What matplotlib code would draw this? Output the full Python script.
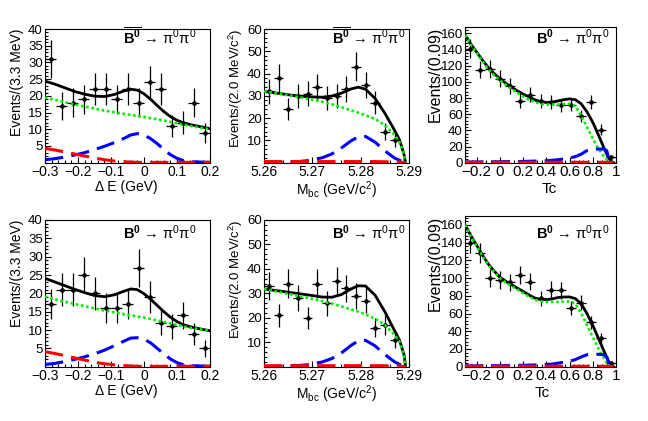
import matplotlib
matplotlib.use("Agg")
import matplotlib.pyplot as plt
import numpy as np
from matplotlib.ticker import AutoMinorLocator

plt.rcParams["font.family"] = ["Liberation Sans", "DejaVu Sans"]
plt.rcParams["mathtext.fontset"] = "custom"
plt.rcParams["mathtext.rm"] = "Liberation Sans"
plt.rcParams["mathtext.it"] = "Liberation Sans:italic"
plt.rcParams["mathtext.bf"] = "Liberation Sans:bold"

# ---- binned data (15 bins per variable) ----
de_range = (-0.3, 0.2)
mbc_range = (5.26, 5.29)
tc_range = (-0.3, 1.0)
n_bins = 15

de_counts_bbar = [31, 17, 18, 19, 22, 22, 19, 22, 18, 24, 22, 11, 12, 18, 9]
de_counts_b = [17, 21, 21, 25, 20, 16, 16, 17, 27, 19, 12, 11, 14, 9, 5]
mbc_counts_bbar = [32, 38, 24, 30, 31, 34, 29, 30, 33, 43, 35, 27, 14, 10, 0]
mbc_counts_b = [33, 21, 34, 28, 20, 34, 26, 35, 32, 29, 27, 16, 17, 11, 0]
tc_counts_bbar = [141, 115, 116, 104, 95, 77, 84, 76, 75, 71, 72, 58, 75, 41, 7]
tc_counts_b = [140, 128, 100, 98, 95, 103, 96, 77, 87, 86, 66, 72, 50, 32, 4]

# ---- fit curves ----
de_grid = [-0.30, -0.27, -0.24, -0.21, -0.18, -0.15, -0.12, -0.09, -0.06, -0.04, -0.02,
           0.00, 0.02, 0.04, 0.06, 0.08, 0.10, 0.12, 0.14, 0.17, 0.20]
de_total_bbar = [24.4, 23.5, 22.4, 21.3, 20.5, 19.9, 19.8, 20.4, 21.5, 22.0, 21.7,
                 20.6, 19.0, 17.1, 15.3, 13.8, 12.7, 11.9, 11.4, 10.8, 10.2]
de_bkg_bbar = [19.5, 18.8, 18.1, 17.4, 16.8, 16.2, 15.6, 15.1, 14.6, 14.3, 14.0,
               13.7, 13.3, 13.0, 12.6, 12.2, 11.8, 11.4, 11.0, 10.5, 10.0]
de_sig_bbar = [0.9, 1.2, 1.7, 2.3, 3.0, 3.9, 4.9, 6.0, 7.3, 8.3, 8.7,
               8.3, 7.2, 5.7, 4.0, 2.4, 1.3, 0.6, 0.3, 0.2, 0.1]
de_rare_bbar = [4.3, 3.8, 3.2, 2.6, 2.0, 1.4, 0.9, 0.5, 0.3, 0.2, 0.1,
                0.1, 0.1, 0.1, 0.1, 0.1, 0.1, 0.1, 0.1, 0.1, 0.1]
de_total_b = [24.1, 23.1, 22.1, 21.1, 20.2, 19.4, 19.1, 19.6, 20.6, 21.2, 21.0,
              19.9, 18.4, 16.7, 15.0, 13.5, 12.3, 11.4, 10.9, 10.3, 9.8]
de_bkg_b = [19.1, 18.4, 17.7, 17.1, 16.5, 15.9, 15.3, 14.8, 14.3, 14.0, 13.7,
            13.4, 13.0, 12.6, 12.2, 11.8, 11.4, 11.0, 10.6, 10.2, 9.8]
de_sig_b = [0.6, 0.9, 1.4, 2.0, 2.7, 3.5, 4.5, 5.7, 7.0, 7.8, 7.9,
            7.5, 6.5, 5.0, 3.5, 2.1, 1.1, 0.5, 0.3, 0.2, 0.1]
de_rare_b = [4.1, 3.6, 3.0, 2.4, 1.8, 1.2, 0.8, 0.5, 0.3, 0.2, 0.1,
             0.1, 0.1, 0.1, 0.1, 0.1, 0.1, 0.1, 0.1, 0.1, 0.1]

mbc_grid = [5.260, 5.263, 5.266, 5.269, 5.272, 5.274, 5.276, 5.278, 5.2795, 5.281,
            5.283, 5.285, 5.287, 5.288, 5.2885, 5.289, 5.2893]
mbc_total_bbar = [32.0, 31.1, 30.2, 29.6, 29.4, 29.9, 31.2, 33.1, 33.9, 33.0,
                  28.8, 22.2, 14.6, 10.4, 7.1, 3.3, 0.0]
mbc_bkg_bbar = [32.0, 31.0, 29.9, 28.7, 27.3, 26.2, 24.9, 23.5, 22.4, 21.3,
                19.6, 16.9, 12.5, 9.3, 6.5, 3.0, 0.0]
mbc_sig_bbar = [0.0, 0.1, 0.3, 0.9, 2.2, 3.9, 6.6, 9.8, 11.6, 11.8,
                9.2, 5.3, 2.1, 1.1, 0.6, 0.3, 0.0]
mbc_rare_bbar = [0.5, 0.5, 0.5, 0.5, 0.5, 0.5, 0.5, 0.5, 0.5, 0.5,
                 0.5, 0.4, 0.4, 0.3, 0.2, 0.1, 0.0]
mbc_total_b = [31.8, 31.0, 30.2, 29.4, 28.5, 28.4, 29.5, 31.8, 33.1, 33.0,
               29.2, 22.5, 14.8, 11.0, 8.0, 4.6, 0.0]
mbc_bkg_b = [31.8, 30.6, 29.4, 28.2, 26.8, 25.8, 24.7, 23.4, 22.5, 21.4,
             19.6, 17.1, 13.0, 10.3, 7.6, 4.2, 0.0]
mbc_sig_b = [0.0, 0.1, 0.3, 0.8, 1.9, 3.3, 5.6, 8.7, 10.6, 10.8,
             8.5, 5.0, 2.0, 1.0, 0.6, 0.3, 0.0]
mbc_rare_b = [0.4, 0.4, 0.4, 0.4, 0.4, 0.4, 0.4, 0.4, 0.4, 0.4,
              0.4, 0.4, 0.3, 0.3, 0.2, 0.1, 0.0]

tc_grid = [-0.30, -0.25, -0.20, -0.15, -0.10, -0.05, 0.00, 0.05, 0.10, 0.15, 0.20,
           0.25, 0.30, 0.35, 0.40, 0.45, 0.50, 0.55, 0.60, 0.65, 0.70, 0.75,
           0.80, 0.85, 0.90, 0.92, 0.94, 0.96, 0.98]
tc_total_bbar = [158, 147, 137, 127, 118, 110.5, 104, 98.5, 93.5, 89, 85,
                 81.5, 78, 75.5, 74.5, 75, 76.5, 78, 79, 78, 73, 63,
                 50, 34, 17, 11, 5, 1.5, 0.0]
tc_bkg_bbar = [158, 146, 136, 125.5, 116, 108.5, 102, 96.5, 91.5, 86.5, 82,
               78, 75, 73, 72, 72, 72, 72.5, 73, 70, 58.5, 44,
               30, 17, 7, 4, 1.5, 0.3, 0.0]
tc_sig_bbar = [0.8, 0.9, 1.0, 1.0, 1.1, 1.1, 1.2, 1.3, 1.4, 1.5, 1.6,
               1.8, 2.0, 2.2, 2.5, 3.0, 3.7, 4.6, 5.8, 7.5, 10.5, 15.0,
               16.5, 17.0, 16.8, 15.0, 4.0, 0.5, 0.0]
tc_rare_bbar = [0.5] * 26 + [0.4, 0.2, 0.0]
tc_total_b = [160, 148, 137, 126, 116, 108, 101, 96.5, 92.6, 88.7, 85,
              81, 77.5, 75.8, 75.6, 76.5, 78, 78.6, 78.7, 76.8, 71, 60,
              46.7, 31.6, 16.6, 11, 5, 1.5, 0.0]
tc_bkg_b = [160, 147, 136, 125, 115, 107, 100, 95, 91, 87, 83,
            79, 75.6, 73.8, 73, 73, 73, 73.3, 73.8, 71, 60.6, 46.7,
            33.5, 20, 9, 4.5, 1.5, 0.3, 0.0]
tc_sig_b = [0.8, 0.9, 1.0, 1.0, 1.1, 1.1, 1.2, 1.3, 1.4, 1.5, 1.6,
            1.8, 2.0, 2.2, 2.5, 3.0, 4.0, 5.0, 6.0, 8.0, 11.0, 13.5,
            14.0, 14.0, 13.5, 11.0, 3.5, 0.5, 0.0]
tc_rare_b = [0.5] * 26 + [0.4, 0.2, 0.0]

de_ticks = [-0.3, -0.2, -0.1, 0.0, 0.1, 0.2]
de_tick_labels = ["\u22120.3", "\u22120.2", "\u22120.1", "0", "0.1", "0.2"]
mbc_ticks = [5.26, 5.27, 5.28, 5.29]
mbc_tick_labels = ["5.26", "5.27", "5.28", "5.29"]
tc_ticks = [-0.2, 0.0, 0.2, 0.4, 0.6, 0.8, 1.0]
tc_tick_labels = ["\u22120.2", "0", "0.2", "0.4", "0.6", "0.8", "1"]

title_bbar = r"$\overline{\mathbf{B}^{\mathbf{0}}}$" + " \u2192 " + r"$\mathrm{\pi}^{0}\mathrm{\pi}^{0}$"
title_b = r"$\mathbf{B}^{\mathbf{0}}$" + " \u2192 " + r"$\mathrm{\pi}^{0}\mathrm{\pi}^{0}$"

W, H = 648, 421


def add_box(fig, left, top, right, bottom):
    return fig.add_axes([left / W, 1 - bottom / H, (right - left) / W, (bottom - top) / H])


def draw_panel(ax, rng, counts, grid, curves, ylim, yticks, xticks, xlabels):
    edges = np.linspace(rng[0], rng[1], n_bins + 1)
    centers = 0.5 * (edges[1:] + edges[:-1])
    half = 0.5 * (edges[1] - edges[0])
    counts = np.asarray(counts, dtype=float)
    keep = counts > 0
    ax.errorbar(centers[keep], counts[keep], xerr=half, yerr=np.sqrt(counts[keep]),
                fmt="o", ms=2.3, color="black", elinewidth=0.9, capsize=0, zorder=3)
    total, bkg, sig, rare = curves
    ax.plot(grid, total, color="black", lw=2.0, zorder=4)
    ax.plot(grid, bkg, color="#00ee00", lw=1.9, ls=(0, (1, 1)), zorder=5)
    ax.plot(grid, sig, color="#0000ff", lw=2.2, ls=(0, (6, 2.7)), zorder=6)
    ax.plot(grid, rare, color="#ff0000", lw=2.2, ls=(0, (6, 2.7)), zorder=6)
    ax.set_xlim(rng)
    ax.set_ylim(ylim)
    ax.set_yticks(yticks)
    ax.set_xticks(xticks)
    ax.set_xticklabels(xlabels)
    ax.xaxis.set_minor_locator(AutoMinorLocator(5))
    ax.yaxis.set_minor_locator(AutoMinorLocator(5))
    ax.tick_params(which="both", direction="in", width=0.8, top=False, right=False)
    ax.tick_params(which="major", length=4.5, pad=1.5)
    ax.tick_params(which="minor", length=2.2)
    ax.tick_params(axis="x", labelsize=10)
    ax.tick_params(axis="y", labelsize=9.5)
    for s in ax.spines.values():
        s.set_linewidth(0.8)


fig = plt.figure(figsize=(W / 100, H / 100), dpi=100)

rows = [
    dict(top=29, bottom=162.7, tc_top=27, tc_ylim=168, base=44, title=title_bbar,
         de=de_counts_bbar, mbc=mbc_counts_bbar, tc=tc_counts_bbar,
         de_c=(de_total_bbar, de_bkg_bbar, de_sig_bbar, de_rare_bbar),
         mbc_c=(mbc_total_bbar, mbc_bkg_bbar, mbc_sig_bbar, mbc_rare_bbar),
         tc_c=(tc_total_bbar, tc_bkg_bbar, tc_sig_bbar, tc_rare_bbar), tc_xl=0.56),
    dict(top=220, bottom=366.7, tc_top=216, tc_ylim=170, base=239, title=title_b,
         de=de_counts_b, mbc=mbc_counts_b, tc=tc_counts_b,
         de_c=(de_total_b, de_bkg_b, de_sig_b, de_rare_b),
         mbc_c=(mbc_total_b, mbc_bkg_b, mbc_sig_b, mbc_rare_b),
         tc_c=(tc_total_b, tc_bkg_b, tc_sig_b, tc_rare_b), tc_xl=0.51),
]

for r in rows:
    xl_y = -17.0 / (r["bottom"] - r["top"])

    ax1 = add_box(fig, 45, r["top"], 210, r["bottom"])
    draw_panel(ax1, de_range, r["de"], de_grid, r["de_c"], (0, 40),
               [5, 10, 15, 20, 25, 30, 35, 40], de_ticks, de_tick_labels)
    ax1.set_ylabel("Events/(3.3 MeV)", fontsize=10, loc="top")
    ax1.yaxis.set_label_coords(-0.125, 1.0)
    ax1.set_xlabel("\u0394 E (GeV)", fontsize=10)
    ax1.xaxis.set_label_coords(0.49, xl_y)

    ax2 = add_box(fig, 264, r["top"], 409, r["bottom"])
    draw_panel(ax2, mbc_range, r["mbc"], mbc_grid, r["mbc_c"], (0, 60),
               [10, 20, 30, 40, 50, 60], mbc_ticks, mbc_tick_labels)
    ax2.set_ylabel(r"Events/(2.0 MeV/c$^{2}$)", fontsize=9.5, loc="top")
    ax2.yaxis.set_label_coords(-0.13, 1.0)
    ax2.set_xlabel(r"M$_{\rm bc}$ (GeV/c$^{2}$)", fontsize=10)
    ax2.xaxis.set_label_coords(0.5, xl_y)

    ax3 = add_box(fig, 465, r["tc_top"], 616, r["bottom"])
    draw_panel(ax3, tc_range, r["tc"], tc_grid, r["tc_c"], (0, r["tc_ylim"]),
               [0, 20, 40, 60, 80, 100, 120, 140, 160], tc_ticks, tc_tick_labels)
    ax3.tick_params(axis="x", labelsize=11)
    ax3.set_ylabel("Events/(0.09)", fontsize=11.5, loc="top")
    ax3.yaxis.set_label_coords(-0.15, 1.0)
    ax3.set_xlabel("Tc", fontsize=11)
    ax3.xaxis.set_label_coords(r["tc_xl"], -19.0 / (r["bottom"] - r["tc_top"]))

    for ax, top in ((ax1, r["top"]), (ax2, r["top"]), (ax3, r["tc_top"])):
        yb = (r["bottom"] - r["base"]) / (r["bottom"] - top)
        ax.text(0.47, yb, r["title"], transform=ax.transAxes, fontsize=10.5,
                ha="left", va="baseline", zorder=10)

fig.savefig("out.png", dpi=100)
